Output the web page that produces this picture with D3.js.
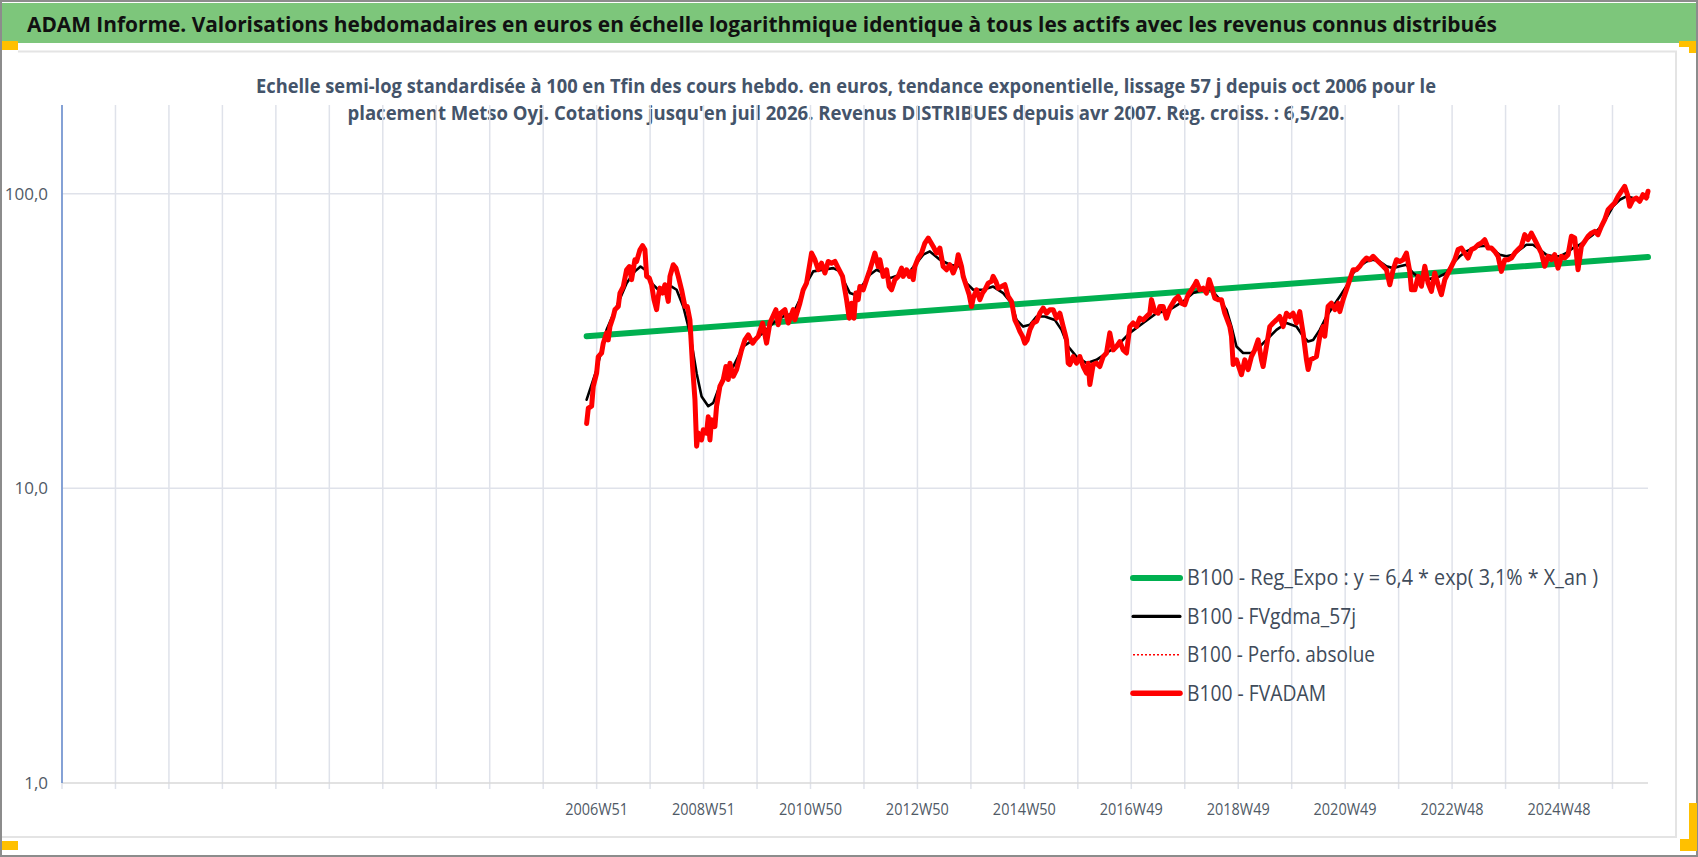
<!DOCTYPE html>
<html>
<head>
<meta charset="utf-8">
<script src="https://cdn.jsdelivr.net/npm/d3@7"></script>
<style>
html, body { margin: 0; padding: 0; background: #fff; overflow: hidden; }
svg { display: block; }
</style>
</head>
<body>
<svg id="chart" width="1698" height="857"></svg>
<script>
const titleText = "ADAM Informe. Valorisations hebdomadaires en euros en échelle logarithmique identique à tous les actifs avec les revenus connus distribués";
const subtitleLines = [
    "Echelle semi-log standardisée à 100 en Tfin des cours hebdo. en euros, tendance exponentielle, lissage 57 j depuis oct 2006 pour le",
    "placement Metso Oyj. Cotations jusqu'en juil 2026. Revenus DISTRIBUES depuis avr 2007. Reg. croiss. : 6,5/20."
];

// category labels shown every 2nd tick (one tick = 52 weeks)
const tickLabels = ["2006W51", "2008W51", "2010W50", "2012W50", "2014W50", "2016W49", "2018W49", "2020W49", "2022W48", "2024W48"];
const ticksBeforeFirstLabel = 10;
const yTickValues = [1, 10, 100];
const yMax = 200;

const legendNames = [
    "B100 - Reg_Expo : y = 6,4 * exp( 3,1% *  X_an )",
    "B100 - FVgdma_57j",
    "B100 - Perfo. absolue",
    "B100 - FVADAM"
];

// [decimal year, value]
const regExpo = [[2006.775, 32.8], [2026.559, 61.0]];

const fvgdma57 = [
    [2006.775,20.0],[2006.961,25.3],[2007.147,34.5],[2007.334,41.4],[2007.520,49.7],[2007.675,54.5],[2007.780,56.6],[2007.862,55.2],
    [2007.986,49.7],[2008.110,47.2],[2008.234,47.8],[2008.359,48.4],[2008.452,47.2],[2008.576,41.4],[2008.700,33.7],[2008.825,24.6],
    [2008.918,20.5],[2009.042,19.0],[2009.135,19.5],[2009.228,21.6],[2009.353,24.6],[2009.508,25.9],[2009.694,30.3],[2009.881,31.9],
    [2010.067,33.7],[2010.253,36.4],[2010.440,38.3],[2010.626,39.3],[2010.750,43.7],[2010.874,49.7],[2010.999,54.5],[2011.185,55.2],
    [2011.372,55.9],[2011.496,54.5],[2011.589,49.7],[2011.682,46.0],[2011.775,45.4],[2011.899,48.4],[2012.055,53.1],[2012.179,55.2],
    [2012.304,53.8],[2012.428,51.7],[2012.614,53.1],[2012.800,54.5],[2012.924,58.1],[2013.049,62.1],[2013.173,63.7],[2013.359,59.7],
    [2013.546,57.4],[2013.732,56.6],[2013.856,49.7],[2013.981,47.2],[2014.167,47.2],[2014.353,48.4],[2014.540,46.0],[2014.695,42.5],
    [2014.788,37.3],[2014.912,35.4],[2015.037,35.9],[2015.161,38.3],[2015.316,38.3],[2015.502,37.3],[2015.627,34.5],[2015.751,30.3],
    [2015.906,28.0],[2016.093,26.6],[2016.279,27.3],[2016.465,28.8],[2016.652,30.3],[2016.900,33.7],[2017.149,36.4],[2017.397,39.3],
    [2017.646,40.4],[2017.894,43.1],[2018.080,46.0],[2018.267,47.2],[2018.422,47.2],[2018.577,43.7],[2018.701,40.4],[2018.795,35.4],
    [2018.888,30.3],[2019.012,28.8],[2019.167,28.8],[2019.323,30.3],[2019.447,31.9],[2019.633,34.5],[2019.820,36.4],[2020.006,35.4],
    [2020.130,32.8],[2020.224,31.5],[2020.317,31.9],[2020.441,34.5],[2020.565,38.3],[2020.690,41.5],[2020.814,44.8],[2020.938,48.5],
    [2021.062,53.8],[2021.186,56.7],[2021.311,58.9],[2021.435,59.7],[2021.559,58.9],[2021.684,56.7],[2021.808,55.9],[2021.932,56.7],
    [2022.056,57.4],[2022.180,53.8],[2022.305,51.7],[2022.429,51.1],[2022.553,51.7],[2022.677,52.4],[2022.802,53.8],[2022.926,58.2],
    [2023.050,61.3],[2023.174,63.7],[2023.298,65.4],[2023.423,66.3],[2023.547,66.6],[2023.671,64.6],[2023.795,62.1],[2023.919,61.3],
    [2024.044,62.1],[2024.168,64.6],[2024.292,67.1],[2024.416,67.1],[2024.541,64.6],[2024.665,62.1],[2024.789,61.3],[2024.913,61.3],
    [2025.038,62.9],[2025.162,65.4],[2025.286,67.1],[2025.410,69.8],[2025.534,72.6],[2025.659,76.5],[2025.783,82.7],[2025.907,90.6],
    [2026.032,95.4],[2026.156,98.0],[2026.280,96.7],[2026.404,96.2],[2026.559,97.4]
];

const fvadam = [
    [2006.775,16.6],[2006.806,18.7],[2006.868,19.0],[2006.899,22.2],[2006.961,24.6],[2006.992,28.0],[2007.054,28.8],[2007.085,31.1],
    [2007.147,33.7],[2007.178,31.9],[2007.209,35.4],[2007.272,38.3],[2007.303,40.4],[2007.365,41.4],[2007.396,46.0],[2007.458,48.4],
    [2007.520,55.2],[2007.570,56.6],[2007.613,51.1],[2007.675,59.7],[2007.706,58.9],[2007.769,64.5],[2007.818,66.6],[2007.862,64.5],
    [2007.893,52.4],[2007.943,51.7],[2007.986,49.1],[2008.030,43.7],[2008.079,40.4],[2008.110,44.8],[2008.141,47.8],[2008.191,46.0],
    [2008.234,49.1],[2008.297,43.1],[2008.328,52.4],[2008.390,57.4],[2008.440,55.9],[2008.483,52.4],[2008.545,47.2],[2008.607,41.4],
    [2008.651,41.4],[2008.700,37.3],[2008.750,25.9],[2008.794,20.0],[2008.825,13.9],[2008.856,15.4],[2008.918,14.6],[2008.949,15.8],
    [2009.011,15.4],[2009.042,17.5],[2009.073,14.6],[2009.104,17.1],[2009.166,16.2],[2009.197,19.0],[2009.259,22.2],[2009.322,23.4],
    [2009.371,25.9],[2009.415,23.4],[2009.446,26.6],[2009.508,24.0],[2009.570,25.3],[2009.601,26.6],[2009.663,29.5],[2009.725,31.9],
    [2009.788,33.2],[2009.868,31.1],[2009.912,31.9],[2009.974,32.8],[2010.055,36.4],[2010.129,31.1],[2010.191,36.4],[2010.303,40.4],
    [2010.346,35.9],[2010.390,39.3],[2010.471,40.4],[2010.533,36.4],[2010.626,40.4],[2010.657,37.3],[2010.750,42.5],[2010.812,47.2],
    [2010.874,49.7],[2010.968,62.9],[2011.030,59.7],[2011.092,55.2],[2011.154,58.1],[2011.216,53.8],[2011.278,58.9],[2011.340,58.1],
    [2011.403,58.9],[2011.465,55.9],[2011.545,52.4],[2011.620,43.7],[2011.670,37.8],[2011.713,42.5],[2011.757,37.8],[2011.794,46.0],
    [2011.837,43.7],[2011.868,48.4],[2011.931,47.2],[2011.993,51.1],[2012.055,55.2],[2012.148,62.9],[2012.210,56.6],[2012.241,59.7],
    [2012.304,52.4],[2012.366,55.2],[2012.415,48.4],[2012.459,47.2],[2012.521,51.1],[2012.583,52.4],[2012.645,55.9],[2012.676,52.4],
    [2012.738,55.2],[2012.788,52.4],[2012.831,54.5],[2012.862,51.1],[2012.893,56.6],[2012.956,60.5],[2013.018,62.9],[2013.080,68.0],
    [2013.142,70.7],[2013.235,66.2],[2013.297,62.9],[2013.359,65.4],[2013.421,56.6],[2013.484,55.2],[2013.546,57.4],[2013.608,53.8],
    [2013.670,57.4],[2013.701,62.1],[2013.763,56.6],[2013.794,52.4],[2013.856,48.4],[2013.906,45.4],[2013.950,41.4],[2013.981,44.2],
    [2014.043,47.2],[2014.105,43.7],[2014.154,46.0],[2014.198,47.2],[2014.260,49.7],[2014.322,50.4],[2014.353,52.4],[2014.403,50.4],
    [2014.446,47.8],[2014.509,48.4],[2014.571,49.1],[2014.633,44.8],[2014.695,43.1],[2014.757,37.3],[2014.801,35.9],[2014.850,34.1],
    [2014.900,32.8],[2014.943,31.1],[2014.987,31.9],[2015.037,34.5],[2015.099,36.4],[2015.161,36.9],[2015.223,39.3],[2015.285,40.9],
    [2015.347,39.3],[2015.409,40.4],[2015.471,40.4],[2015.534,37.8],[2015.596,39.3],[2015.658,35.4],[2015.689,33.7],[2015.720,31.9],
    [2015.751,26.6],[2015.782,26.3],[2015.844,28.0],[2015.906,26.6],[2015.968,28.0],[2016.031,25.9],[2016.093,24.6],[2016.124,26.6],
    [2016.155,22.5],[2016.217,26.3],[2016.279,26.6],[2016.341,25.9],[2016.403,28.0],[2016.465,28.8],[2016.527,33.7],[2016.590,29.5],
    [2016.652,30.3],[2016.714,31.5],[2016.776,29.5],[2016.838,28.8],[2016.900,35.4],[2016.962,36.4],[2017.024,35.4],[2017.086,37.8],
    [2017.149,37.3],[2017.211,38.3],[2017.273,39.3],[2017.304,43.7],[2017.366,39.8],[2017.428,39.3],[2017.459,41.4],[2017.521,41.4],
    [2017.583,37.8],[2017.646,40.9],[2017.739,43.7],[2017.801,44.8],[2017.863,42.5],[2017.925,42.0],[2017.987,45.4],[2018.049,47.2],
    [2018.111,49.1],[2018.142,50.4],[2018.205,47.2],[2018.267,47.8],[2018.329,46.0],[2018.379,51.1],[2018.422,48.4],[2018.484,44.2],
    [2018.546,43.7],[2018.608,43.7],[2018.670,39.3],[2018.764,35.4],[2018.795,32.8],[2018.826,26.3],[2018.888,27.3],[2018.950,25.3],
    [2018.981,24.3],[2019.043,27.3],[2019.105,25.3],[2019.167,28.0],[2019.229,29.5],[2019.292,31.9],[2019.354,27.3],[2019.385,25.9],
    [2019.447,30.3],[2019.509,35.4],[2019.571,36.4],[2019.633,37.3],[2019.695,38.3],[2019.757,35.4],[2019.820,39.3],[2019.882,38.3],
    [2019.944,39.3],[2020.006,36.4],[2020.068,39.8],[2020.130,33.7],[2020.193,27.3],[2020.224,25.3],[2020.267,27.3],[2020.317,27.6],
    [2020.379,28.0],[2020.441,32.8],[2020.503,35.4],[2020.534,32.8],[2020.596,41.5],[2020.658,42.5],[2020.721,40.4],[2020.783,42.5],
    [2020.814,39.8],[2020.876,43.7],[2020.938,47.2],[2021.000,51.1],[2021.062,55.2],[2021.124,55.2],[2021.186,56.7],[2021.249,58.9],
    [2021.311,60.5],[2021.373,59.7],[2021.435,61.3],[2021.497,59.7],[2021.559,58.2],[2021.621,56.7],[2021.684,55.2],[2021.746,49.1],
    [2021.808,55.2],[2021.870,59.7],[2021.932,58.9],[2021.994,59.7],[2022.056,62.9],[2022.118,54.5],[2022.149,47.2],[2022.212,47.2],
    [2022.274,52.4],[2022.336,48.5],[2022.398,56.7],[2022.460,49.7],[2022.522,46.6],[2022.584,53.8],[2022.646,49.1],[2022.708,45.4],
    [2022.771,51.1],[2022.833,53.8],[2022.895,56.7],[2022.957,59.7],[2023.019,64.6],[2023.081,65.4],[2023.143,62.9],[2023.205,60.5],
    [2023.267,64.6],[2023.330,65.4],[2023.392,67.1],[2023.454,68.0],[2023.516,69.8],[2023.578,65.4],[2023.640,65.4],[2023.702,63.7],
    [2023.764,61.3],[2023.826,54.5],[2023.889,59.7],[2023.951,59.7],[2024.013,60.5],[2024.075,62.9],[2024.137,64.6],[2024.199,66.3],
    [2024.261,72.6],[2024.323,69.8],[2024.385,73.5],[2024.448,69.8],[2024.510,66.3],[2024.572,62.9],[2024.634,56.7],[2024.696,61.3],
    [2024.758,59.7],[2024.820,62.1],[2024.882,55.9],[2024.944,61.3],[2025.007,60.5],[2025.069,62.1],[2025.131,71.7],[2025.193,70.7],
    [2025.255,55.2],[2025.317,66.3],[2025.379,68.9],[2025.441,71.7],[2025.503,73.5],[2025.565,74.5],[2025.627,72.6],[2025.690,77.5],
    [2025.752,81.6],[2025.814,88.2],[2025.876,90.6],[2025.938,93.0],[2026.000,98.0],[2026.062,101.9],[2026.124,105.9],[2026.186,98.0],
    [2026.217,90.6],[2026.280,95.4],[2026.342,96.7],[2026.404,94.2],[2026.466,99.2],[2026.528,96.7],[2026.559,101.9]
];
// the absolute performance series coincides with FVADAM on this asset
const perfoAbsolue = fvadam;

const fontStack = '"Liberation Sans Narrow", "Open Sans", "Liberation Sans", sans-serif';

/** ISO week label "2006W51" -> decimal year of that week's Monday */
function isoWeekToYear(label) {
    const [yr, wk] = label.split("W").map(Number);
    const jan4 = new Date(Date.UTC(yr, 0, 4));
    const monday = d3.utcDay.offset(jan4, -((jan4.getUTCDay() + 6) % 7) + (wk - 1) * 7);
    const start = Date.UTC(yr, 0, 1);
    const daysInYear = (Date.UTC(yr + 1, 0, 1) - start) / 864e5;
    return yr + (monday - start) / 864e5 / daysInYear;
}

const svg = d3.select("#chart");
const W = 1698, H = 857;
const plot = { left: 62, right: 1648, top: 105, bottom: 783 };

// frame of the sheet
svg.append("rect").attr("x", 1).attr("y", 1).attr("width", W - 2).attr("height", H - 2)
    .attr("fill", "#fff").attr("stroke", "#8c8c8c").attr("stroke-width", 2);
svg.append("rect").attr("x", 2).attr("y", 3).attr("width", W - 4).attr("height", 40).attr("fill", "#7dc67b");
svg.append("path").attr("d", `M18,51.5 H1676 V837 H2`).attr("fill", "none").attr("stroke", "#e4e4e4").attr("stroke-width", 2);

const orange = "#ffc000";
svg.append("rect").attr("x", 2).attr("y", 41).attr("width", 16).attr("height", 9).attr("fill", orange);
svg.append("rect").attr("x", 2).attr("y", 841).attr("width", 16).attr("height", 9).attr("fill", orange);
svg.append("path").attr("d", "M1679,41 H1696 V53 H1689 V47 H1679 Z").attr("fill", orange);
svg.append("path").attr("d", "M1689,803 H1697 V851 H1680 V839 H1689 Z").attr("fill", orange);

svg.append("text")
    .attr("x", 27).attr("y", 32)
    .attr("textLength", 1470).attr("lengthAdjust", "spacingAndGlyphs")
    .style("font-family", fontStack).style("font-size", "22px").style("font-weight", "bold")
    .style("fill", "#111")
    .text(titleText);

const subWidths = [1180, 997];
svg.selectAll("text.subtitle")
    .data(subtitleLines)
    .enter()
    .append("text")
    .attr("class", "subtitle")
    .attr("x", 846)
    .attr("y", (d, i) => 93 + i * 27)
    .attr("text-anchor", "middle")
    .attr("textLength", (d, i) => subWidths[i]).attr("lengthAdjust", "spacingAndGlyphs")
    .style("font-family", fontStack).style("font-size", "20px").style("font-weight", "bold")
    .style("fill", "#44546a")
    .text(d => d);

// scales
const weekYears = 364 / 365.2425;
const firstLabelYear = isoWeekToYear(tickLabels[0]);
const xStart = firstLabelYear - ticksBeforeFirstLabel * weekYears;
const xEnd = fvadam[fvadam.length - 1][0];

const x = d3.scaleLinear().domain([xStart, xEnd]).range([plot.left, plot.right]);
const y = d3.scaleLog().domain([1, yMax]).range([plot.bottom, plot.top]);

const gridTicks = d3.range(0, 40).map(k => xStart + k * weekYears).filter(t => t <= xEnd);
const gridColor = "#dfe2ea";

svg.append("g").selectAll("line")
    .data(gridTicks)
    .enter()
    .append("line")
    .attr("x1", d => x(d)).attr("x2", d => x(d))
    .attr("y1", plot.top).attr("y2", plot.bottom + 6)
    .attr("stroke", gridColor).attr("stroke-width", 1.5);

svg.append("g").selectAll("line")
    .data(yTickValues.slice(1))
    .enter()
    .append("line")
    .attr("x1", plot.left).attr("x2", plot.right)
    .attr("y1", d => y(d)).attr("y2", d => y(d))
    .attr("stroke", gridColor).attr("stroke-width", 1.5);

svg.append("line")
    .attr("x1", plot.left).attr("x2", plot.right)
    .attr("y1", plot.bottom).attr("y2", plot.bottom)
    .attr("stroke", "#d9d9d9").attr("stroke-width", 1.5);

svg.append("line")
    .attr("x1", plot.left).attr("x2", plot.left)
    .attr("y1", plot.top).attr("y2", plot.bottom)
    .attr("stroke", "#4472c4").attr("stroke-width", 1.2);

const frFormat = d3.formatLocale({ decimal: ",", thousands: " ", grouping: [3], currency: ["", " €"] }).format(".1f");

svg.append("g").selectAll("text")
    .data(yTickValues)
    .enter()
    .append("text")
    .attr("x", 48)
    .attr("y", d => y(d))
    .attr("dy", "0.35em")
    .attr("text-anchor", "end")
    .style("font-family", fontStack).style("font-size", "17px")
    .style("fill", "#505a66")
    .text(d => frFormat(d));

svg.append("g").selectAll("text")
    .data(tickLabels)
    .enter()
    .append("text")
    .attr("x", d => x(isoWeekToYear(d)))
    .attr("y", 815)
    .attr("text-anchor", "middle")
    .attr("textLength", 63).attr("lengthAdjust", "spacingAndGlyphs")
    .style("font-family", fontStack).style("font-size", "17px")
    .style("fill", "#505a66")
    .text(d => d);

// series
const line = d3.line().x(d => x(d[0])).y(d => y(d[1]));

const seriesStyles = [
    { data: regExpo, color: "#00b050", width: 6, dash: null },
    { data: fvgdma57, color: "#000", width: 2.6, dash: null },
    { data: perfoAbsolue, color: "#ff0000", width: 1.5, dash: "2,2" },
    { data: fvadam, color: "#ff0000", width: 5, dash: null }
];

seriesStyles.forEach(s => {
    svg.append("path")
        .datum(s.data)
        .attr("d", line)
        .attr("fill", "none")
        .attr("stroke", s.color)
        .attr("stroke-width", s.width)
        .attr("stroke-linejoin", "round")
        .attr("stroke-linecap", "round")
        .attr("stroke-dasharray", s.dash);
});

// legend
const legendWidths = [411, 169, 188, 139];
const legend = svg.append("g").selectAll("g")
    .data(legendNames)
    .enter()
    .append("g")
    .attr("transform", (d, i) => `translate(0, ${578 + i * 38.4})`);

legend.append("line")
    .attr("x1", 1133).attr("x2", 1180)
    .attr("stroke", (d, i) => seriesStyles[i].color)
    .attr("stroke-width", (d, i) => i === 2 ? 1.5 : Math.min(seriesStyles[i].width + 0.5, 6))
    .attr("stroke-linecap", (d, i) => i === 2 ? "butt" : "round")
    .attr("stroke-dasharray", (d, i) => seriesStyles[i].dash);

legend.append("text")
    .attr("x", 1187)
    .attr("dy", "0.35em")
    .attr("textLength", (d, i) => legendWidths[i]).attr("lengthAdjust", "spacingAndGlyphs")
    .style("font-family", fontStack).style("font-size", "21px")
    .style("fill", "#404b5a")
    .text(d => d);
</script>
</body>
</html>
